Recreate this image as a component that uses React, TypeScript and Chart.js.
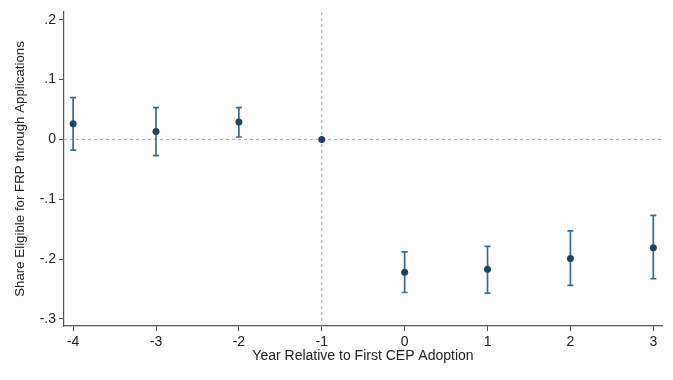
import React, { useEffect, useRef } from "react";
import { Chart, registerables } from "chart.js";

Chart.register(...registerables);

const years = [-4, -3, -2, -1, 0, 1, 2, 3];
const estimates = [0.026, 0.013, 0.029, 0, -0.222, -0.217, -0.199, -0.181];
const upperCI = [0.070, 0.053, 0.053, null, -0.188, -0.179, -0.153, -0.127];
const lowerCI = [-0.018, -0.027, 0.004, null, -0.256, -0.257, -0.244, -0.233];
const xTicks = [-4, -3, -2, -1, 0, 1, 2, 3];
const yTicks = [-0.3, -0.2, -0.1, 0, 0.1, 0.2];
const yTickLabels = ["-.3", "-.2", "-.1", "0", ".1", ".2"];
const xTitle = "Year Relative to First CEP Adoption";
const yTitle = "Share Eligible for FRP through Applications";
const refX = -1;
const refY = 0;

const FONT = "'Liberation Sans', Arial, Helvetica, sans-serif";

const refLinesPlugin = {
  id: "refLines",
  beforeDatasetsDraw(chart: any) {
    const { ctx, chartArea, scales } = chart;
    const x = scales.x.getPixelForValue(refX);
    const y = scales.y.getPixelForValue(refY);
    ctx.save();
    ctx.strokeStyle = "#a9a9a9";
    ctx.lineWidth = 1;
    ctx.setLineDash([3, 3]);
    ctx.beginPath();
    ctx.moveTo(chartArea.left, y);
    ctx.lineTo(chartArea.right, y);
    ctx.moveTo(x, chartArea.top);
    ctx.lineTo(x, chartArea.bottom);
    ctx.stroke();
    ctx.restore();
  },
};

const errorBarsPlugin = {
  id: "errorBars",
  beforeDatasetsDraw(chart: any) {
    const { ctx, scales } = chart;
    ctx.save();
    ctx.strokeStyle = "#3e6a88";
    ctx.lineWidth = 1.7;
    years.forEach((yr, i) => {
      const hi = upperCI[i];
      const lo = lowerCI[i];
      if (hi == null || lo == null) return;
      const x = scales.x.getPixelForValue(yr);
      const yh = scales.y.getPixelForValue(hi);
      const yl = scales.y.getPixelForValue(lo);
      ctx.beginPath();
      ctx.moveTo(x, yh);
      ctx.lineTo(x, yl);
      ctx.moveTo(x - 3, yh);
      ctx.lineTo(x + 3, yh);
      ctx.moveTo(x - 3, yl);
      ctx.lineTo(x + 3, yl);
      ctx.stroke();
    });
    ctx.restore();
  },
};

export default function App() {
  const ref = useRef<HTMLCanvasElement>(null);
  useEffect(() => {
    document.body.style.margin = "0";
    const chart = new Chart(ref.current!, {
      type: "scatter",
      data: {
        datasets: [
          {
            data: years.map((x, i) => ({ x, y: estimates[i] })),
            backgroundColor: "#1b4466",
            borderColor: "#1b4466",
            pointRadius: 3.5,
            pointHoverRadius: 3.5,
            borderWidth: 0,
          },
        ],
      },
      options: {
        animation: false,
        responsive: false,
        layout: { padding: { top: 12, right: 11, left: 0, bottom: 15 } },
        plugins: { legend: { display: false }, tooltip: { enabled: false } },
        scales: {
          x: {
            type: "linear",
            min: -4.11,
            max: 3.105,
            afterBuildTicks: (s: any) => {
              s.ticks = xTicks.map((v) => ({ value: v }));
            },
            afterFit: (s: any) => {
              s.height = 39;
            },
            ticks: {
              color: "#222",
              font: { family: FONT, size: 14 },
              padding: 3,
              maxRotation: 0,
              callback: (v: any) => String(v),
            },
            grid: { drawOnChartArea: false, tickLength: 5, color: "#555", lineWidth: 1 },
            border: { color: "#555", width: 1.2 },
            title: {
              display: true,
              text: xTitle,
              color: "#222",
              font: { family: FONT, size: 14 },
              padding: { top: 2, bottom: 0 },
            },
          },
          y: {
            type: "linear",
            min: -0.312,
            max: 0.213,
            afterBuildTicks: (s: any) => {
              s.ticks = yTicks.map((v) => ({ value: v }));
            },
            afterFit: (s: any) => {
              s.width = 64;
            },
            ticks: {
              color: "#222",
              font: { family: FONT, size: 14 },
              padding: 3,
              callback: (v: any) => {
                const i = yTicks.findIndex((t) => Math.abs(t - v) < 1e-9);
                return i >= 0 ? yTickLabels[i] : "";
              },
            },
            grid: { drawOnChartArea: false, tickLength: 5, color: "#555", lineWidth: 1 },
            border: { color: "#555", width: 1.2 },
            title: {
              display: true,
              text: yTitle,
              color: "#222",
              font: { family: FONT, size: 13.3 },
              padding: { top: 12, bottom: 0 },
            },
          },
        },
      },
      plugins: [refLinesPlugin, errorBarsPlugin],
    } as any);
    return () => chart.destroy();
  }, []);
  return (
    <div style={{ width: 673, height: 380, background: "#fcfcfc" }}>
      <canvas ref={ref} width={673} height={380} style={{ display: "block" }} />
    </div>
  );
}
